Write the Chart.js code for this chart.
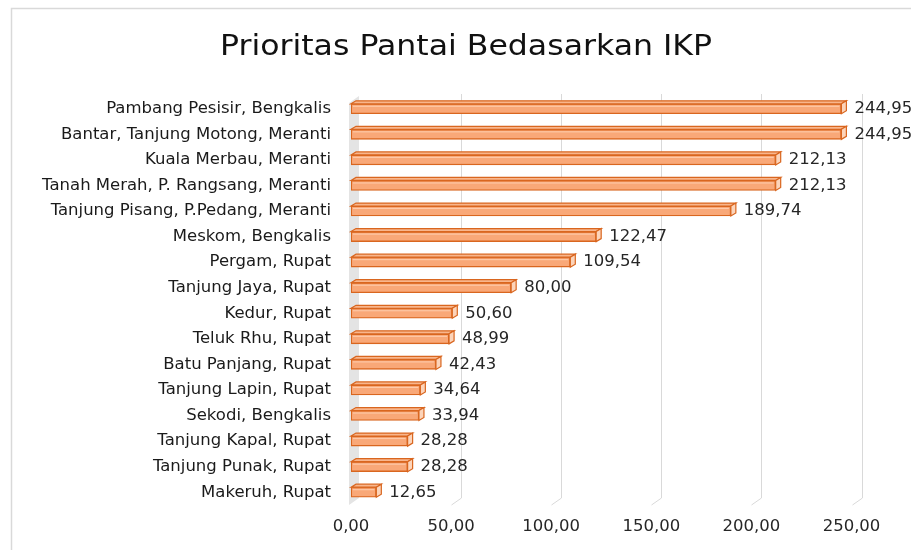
<!DOCTYPE html>
<html>
<head>
<meta charset="utf-8">
<script src="https://cdn.jsdelivr.net/npm/chart.js@4.4.1/dist/chart.umd.min.js"></script>
<style>
html,body{margin:0;padding:0;background:#fff;}
#wrap{width:911px;height:550px;position:relative;}
</style>
</head>
<body>
<div id="wrap"><canvas id="c" width="911" height="550"></canvas></div>
<script>
const categories = [
  "Pambang Pesisir, Bengkalis",
  "Bantar, Tanjung Motong, Meranti",
  "Kuala Merbau, Meranti",
  "Tanah Merah, P. Rangsang, Meranti",
  "Tanjung Pisang, P.Pedang, Meranti",
  "Meskom, Bengkalis",
  "Pergam, Rupat",
  "Tanjung Jaya, Rupat",
  "Kedur, Rupat",
  "Teluk Rhu, Rupat",
  "Batu Panjang, Rupat",
  "Tanjung Lapin, Rupat",
  "Sekodi, Bengkalis",
  "Tanjung Kapal, Rupat",
  "Tanjung Punak, Rupat",
  "Makeruh, Rupat"
];
const ikpValues = [244.95, 244.95, 212.13, 212.13, 189.74, 122.47, 109.54, 80.00, 50.60, 48.99, 42.43, 34.64, 33.94, 28.28, 28.28, 12.65];
const titleText = "Prioritas Pantai Bedasarkan IKP";
const axisMin = 0, axisMax = 250, axisStep = 50;

const fmt = v => Number(v).toFixed(2).replace('.', ',');
const FONT = "'DejaVu Sans', sans-serif";
const DEPTH_X = 10, DEPTH_Y = 7;

const framePlugin = {
  id: 'frame',
  beforeDatasetsDraw(chart) {
    const ctx = chart.ctx;
    const a = chart.chartArea;
    const xs = chart.scales.x;
    ctx.save();
    // outer frame
    ctx.strokeStyle = '#d9d9d9';
    ctx.lineWidth = 1.5;
    ctx.strokeRect(11.5, 8.5, 1200, 1200);
    // side wall
    ctx.fillStyle = '#e4e4e4';
    ctx.beginPath();
    ctx.moveTo(a.left - 2, a.top + DEPTH_Y);
    ctx.lineTo(a.left - 2 + DEPTH_X, a.top);
    ctx.lineTo(a.left - 2 + DEPTH_X, a.bottom - DEPTH_Y);
    ctx.lineTo(a.left - 2, a.bottom);
    ctx.closePath();
    ctx.fill();
    // back-wall gridlines with floor slant
    ctx.strokeStyle = '#d9d9d9';
    ctx.lineWidth = 1;
    xs.ticks.forEach(t => {
      if (t.value === axisMin) return;
      const x = Math.round(xs.getPixelForValue(t.value)) + 0.5;
      ctx.beginPath();
      ctx.moveTo(x + DEPTH_X, a.top - 2);
      ctx.lineTo(x + DEPTH_X, a.bottom - DEPTH_Y);
      ctx.lineTo(x, a.bottom);
      ctx.stroke();
    });
    ctx.restore();
  },
  beforeDraw(chart) {
    const ctx = chart.ctx;
    ctx.save();
    ctx.font = "28px " + FONT;
    const w = ctx.measureText(titleText).width;
    const sx = 492 / w;
    ctx.translate(466, 55);
    ctx.scale(sx, 1);
    ctx.fillStyle = '#111111';
    ctx.textAlign = 'center';
    ctx.textBaseline = 'alphabetic';
    ctx.fillText(titleText, 0, 0);
    ctx.restore();
  }
};

const bar3DPlugin = {
  id: 'bar3d',
  afterDatasetsDraw(chart) {
    const ctx = chart.ctx;
    const meta = chart.getDatasetMeta(0);
    const dx = 5, dy = 3;
    ctx.save();
    meta.data.forEach((el, i) => {
      const p = el.getProps(['x', 'y', 'base', 'height'], true);
      const top = p.y - p.height / 2, bot = p.y + p.height / 2;
      const x0 = p.base, x1 = p.x;
      ctx.lineWidth = 1.2;
      ctx.strokeStyle = '#d9661f';
      // top face
      ctx.beginPath();
      ctx.moveTo(x0, top);
      ctx.lineTo(x0 + dx, top - dy);
      ctx.lineTo(x1 + dx, top - dy);
      ctx.lineTo(x1, top);
      ctx.closePath();
      ctx.fillStyle = '#f8b68d';
      ctx.fill();
      ctx.stroke();
      // end face
      ctx.beginPath();
      ctx.moveTo(x1, top);
      ctx.lineTo(x1 + dx, top - dy);
      ctx.lineTo(x1 + dx, bot - dy);
      ctx.lineTo(x1, bot);
      ctx.closePath();
      ctx.fillStyle = '#fcd4ba';
      ctx.fill();
      ctx.stroke();
      // inner highlight line on front face
      ctx.strokeStyle = 'rgba(255,214,186,0.8)';
      ctx.lineWidth = 1;
      ctx.beginPath();
      ctx.moveTo(x0 + 2, top + 2.5);
      ctx.lineTo(x1 - 2, top + 2.5);
      ctx.stroke();
      // value label
      ctx.fillStyle = '#262626';
      ctx.font = "16.5px " + FONT;
      ctx.textAlign = 'left';
      ctx.textBaseline = 'middle';
      ctx.fillText(fmt(ikpValues[i]), x1 + dx + 8, p.y);
    });
    ctx.restore();
  }
};

new Chart(document.getElementById('c'), {
  type: 'bar',
  data: {
    labels: categories,
    datasets: [{
      data: ikpValues,
      backgroundColor: '#f9a878',
      borderColor: '#d9661f',
      borderWidth: 1.4,
      borderSkipped: false,
      barThickness: 10
    }]
  },
  options: {
    indexAxis: 'y',
    responsive: false,
    animation: false,
    devicePixelRatio: 1,
    layout: { padding: { left: 0, right: 59.5, top: 96, bottom: 0 } },
    plugins: {
      legend: { display: false },
      tooltip: { enabled: false },
      title: { display: false }
    },
    scales: {
      x: {
        min: axisMin, max: axisMax,
        ticks: {
          stepSize: axisStep,
          callback: v => fmt(v),
          color: '#262626',
          font: { family: FONT, size: 16.5 },
          padding: 12
        },
        grid: { display: false, drawTicks: false },
        border: { display: false },
        afterFit(s) { s.height = 45; }
      },
      y: {
        ticks: {
          color: '#1a1a1a',
          font: { family: FONT, size: 16.5 },
          padding: 20,
          autoSkip: false
        },
        grid: { display: false, drawTicks: false },
        border: { display: false },
        afterFit(s) { s.width = 351; }
      }
    }
  },
  plugins: [framePlugin, bar3DPlugin]
});
</script>
</body>
</html>
